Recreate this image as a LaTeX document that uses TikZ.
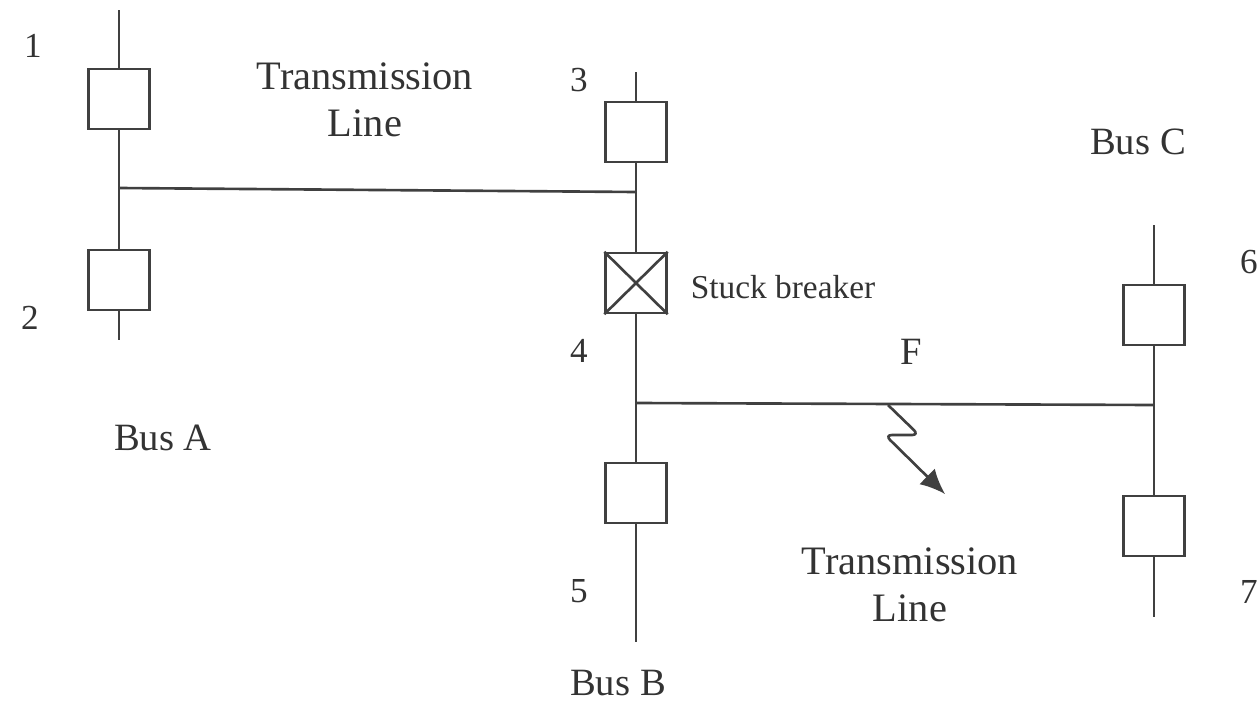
\documentclass[tikz,border=0pt]{standalone}
\usepackage{fontspec}
\setmainfont{Liberation Serif}
\usetikzlibrary{arrows.meta}
\tikzset{
	breaker/.style={draw,line width=1.3pt,black!75,fill=white,minimum width=1.22cm,minimum height=1.2cm,inner sep=0pt},
	wire/.style={line width=1.5pt,black!75},
	lab/.style={inner sep=0pt,align=center,font=\fontsize{22}{27}\selectfont,text=black!80},
}
\begin{document}
\begin{tikzpicture}[x=0.02cm,y=-0.02cm,>={Latex[length=5mm,width=4.4mm]}]
	\useasboundingbox (0,0) rectangle (1257,703);
	\coordinate (Atop) at (119,10);
	\coordinate (Abot) at (119,340);
	\coordinate (Atap) at (119,188);
	\coordinate (Btop) at (636,72);
	\coordinate (Bbot) at (636,642);
	\coordinate (Btap) at (636,192);
	\coordinate (Bfeed) at (636,403);
	\coordinate (Ctop) at (1154,225);
	\coordinate (Cbot) at (1154,617);
	\coordinate (Cfeed) at (1154,405);
	\coordinate (Fa) at (888,405);
	\coordinate (Fb) at (919,435);
	\coordinate (Fc) at (885,435);
	\coordinate (Fd) at (945,494);
	\draw[wire] (Atop) -- (Abot);
	\draw[wire] (Btop) -- (Bbot);
	\draw[wire] (Ctop) -- (Cbot);
	\draw[wire] (Atap) -- (Btap);
	\draw[wire] (Bfeed) -- (Cfeed);
	\draw[wire,->,rounded corners=4pt] (Fa) -- (Fb) -- (Fc) -- (Fd);
	\node[breaker] (b1) at (119,99)  {};
	\node[breaker] (b2) at (119,280) {};
	\node[breaker] (b3) at (636,132) {};
	\node[breaker] (b4) at (636,283) {};
	\node[breaker] (b5) at (636,493) {};
	\node[breaker] (b6) at (1154,315) {};
	\node[breaker] (b7) at (1154,526) {};
	\draw[wire] (b4.north west) -- (b4.south east);
	\draw[wire] (b4.south west) -- (b4.north east);
	\node[lab,font=\fontsize{20}{24}\selectfont] (n1) at (33,46)   {1};
	\node[lab,font=\fontsize{20}{24}\selectfont] (n2) at (30,318)  {2};
	\node[lab,font=\fontsize{20}{24}\selectfont] (n3) at (579,80)  {3};
	\node[lab,font=\fontsize{20}{24}\selectfont] (n4) at (579,351) {4};
	\node[lab,font=\fontsize{20}{24}\selectfont] (n5) at (579,591) {5};
	\node[lab,font=\fontsize{20}{24}\selectfont] (n6) at (1249,262) {6};
	\node[lab,font=\fontsize{20}{24}\selectfont] (n7) at (1249,592) {7};
	\node[lab,font=\fontsize{23}{27}\selectfont] (tl1) at (365,100) {Transmission\\Line};
	\node[lab,font=\fontsize{23}{27}\selectfont] (tl2) at (910,585) {Transmission\\Line};
	\node[lab] (busa) at (163,438) {Bus A};
	\node[lab] (busb) at (618,683) {Bus B};
	\node[lab] (busc) at (1138,142) {Bus C};
	\node[lab] (fault) at (911,352) {F};
	\node[lab,font=\fontsize{19}{20}\selectfont] (stuck) at (783,287) {Stuck breaker};
\end{tikzpicture}
\end{document}
